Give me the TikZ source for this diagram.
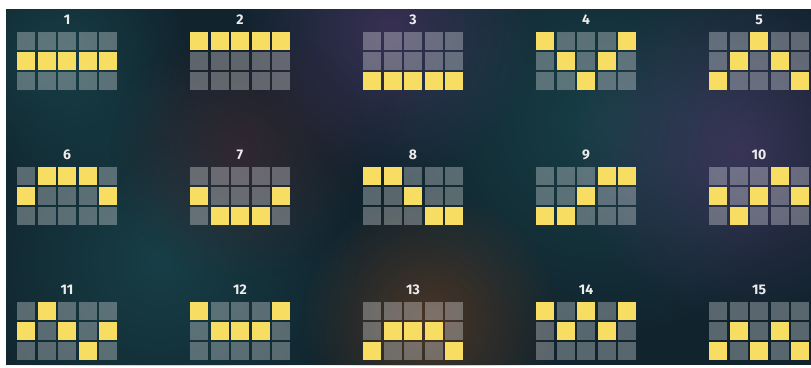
\documentclass[tikz,border=0pt]{standalone}
\usepackage{fontspec}
\setmainfont{Fira Sans}
\usetikzlibrary{fadings}

\definecolor{bgdark}{RGB}{17,36,46}
\definecolor{lineyellow}{RGB}{247,221,98}
\definecolor{hazepurple}{RGB}{95,60,120}
\definecolor{hazeteal}{RGB}{30,90,95}
\definecolor{hazeorange}{RGB}{130,70,30}
\definecolor{hazered}{RGB}{80,35,45}

\tikzfading[name=softspot, inner color=transparent!0, outer color=transparent!100]

\begin{document}
\begin{tikzpicture}[
      x=1pt, y=-1pt,
      cell/.style={rectangle, minimum size=18pt, inner sep=0pt, fill=white, fill opacity=0.3},
      hit/.style={rectangle, minimum size=18pt, inner sep=0pt, fill=lineyellow},
      number/.style={inner sep=0pt, text=white!85!gray, font=\bfseries\fontsize{14}{14}\selectfont},
      haze/.style={opacity=0.5, path fading=softspot}
    ]
      \useasboundingbox (0,0) rectangle (811,367);
      \fill[white] (0,0) rectangle (811,367);
      \fill[bgdark] (6,9) rectangle (811,365);
      % background haze
      \begin{scope}
        \clip (6,9) rectangle (811,365);
        \fill[hazepurple, haze] (390,30) circle (150pt);
        \fill[hazeteal, haze] (160,260) circle (200pt);
        \fill[hazeteal, haze] (600,120) circle (220pt);
        \fill[hazered, haze] (240,150) circle (130pt);
        \fill[hazeorange, haze] (430,320) circle (130pt);
        \fill[hazepurple, haze] (740,150) circle (170pt);
        \fill[hazeteal, haze] (60,60) circle (130pt);
      \end{scope}
      % paylines: row of the lit cell in each reel
      \foreach \n/\pat [count=\i from 0] in {
          1/{1,1,1,1,1}, 2/{0,0,0,0,0}, 3/{2,2,2,2,2}, 4/{0,1,2,1,0}, 5/{2,1,0,1,2},
          6/{1,0,0,0,1}, 7/{1,2,2,2,1}, 8/{0,0,1,2,2}, 9/{2,2,1,0,0}, 10/{1,2,1,0,1},
          11/{1,0,1,2,1}, 12/{0,1,1,1,0}, 13/{2,1,1,1,2}, 14/{0,1,0,1,0}, 15/{2,1,2,1,2}} {
        \pgfmathsetmacro\gx{17+173*mod(\i,5)}
        \pgfmathsetmacro\gy{32+135*div(\i,5)}
        \node[number] (num\n) at (\gx+50, \gy-12) {\n};
        \foreach \row [count=\c from 0] in \pat {
          \foreach \r in {0,1,2} {
            \node[cell] (g\n-\c-\r) at (\gx+9+\c*20.5, \gy+9+\r*20) {};
          }
          \node[hit] (h\n-\c) at (\gx+9+\c*20.5, \gy+9+\row*20) {};
        }
      }
    \end{tikzpicture}
\end{document}
